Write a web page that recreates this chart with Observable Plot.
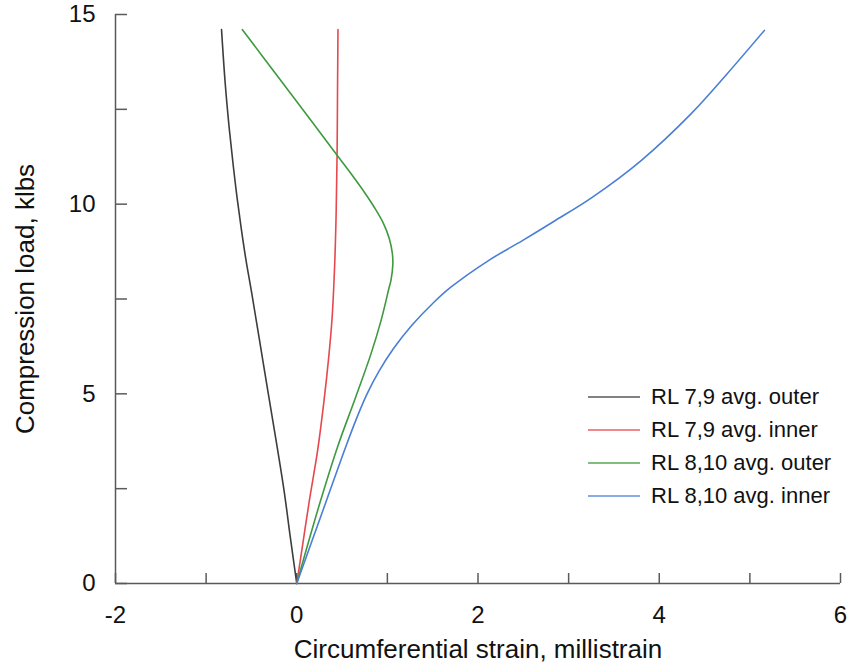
<!DOCTYPE html>
<html>
<head>
<meta charset="utf-8">
<script src="https://cdn.jsdelivr.net/npm/d3@7"></script>
<script src="https://cdn.jsdelivr.net/npm/@observablehq/plot@0.6"></script>
<style>
  html, body { margin: 0; padding: 0; background: #fff; }
  #wrap { position: relative; width: 849px; height: 672px; font-family: "Liberation Sans", Arial, sans-serif; }
  #legend { position: absolute; left: 588px; top: 380px; font-size: 22px; color: #111; }
  .row { display: flex; align-items: center; height: 33px; }
  .sw { width: 52px; height: 2px; margin-right: 11px; opacity: 0.65; }
</style>
</head>
<body>
<div id="wrap"></div>
<script>
const seriesNames = ["RL 7,9 avg. outer", "RL 7,9 avg. inner", "RL 8,10 avg. outer", "RL 8,10 avg. inner"];
const seriesColors = ["#3d3d3d", "#e5484f", "#3e9a3e", "#4a7fd6"];

const outer79X = [0, -0.07, -0.14, -0.23, -0.32, -0.41, -0.50, -0.565, -0.615, -0.66, -0.70, -0.745, -0.79, -0.83];
const outer79Y = [0, 1.2, 2.45, 3.8, 5.09, 6.4, 7.7, 8.6, 9.4, 10.2, 11.0, 12.0, 13.2, 14.6];

const inner79X = [0, 0.07, 0.14, 0.23, 0.30, 0.35, 0.39, 0.42, 0.435, 0.445, 0.45, 0.455];
const inner79Y = [0, 1.1, 2.2, 3.5, 4.8, 5.9, 7.0, 8.5, 9.8, 11.3, 13.0, 14.6];

const outer810X = [0, 0.13, 0.265, 0.45, 0.65, 0.82, 0.93, 1.02, 1.04, 1.06, 1.055, 1.02, 0.955, 0.86, 0.75, 0.60, 0.41, 0.16, -0.22, -0.6];
const outer810Y = [0, 1.1, 2.2, 3.6, 4.91, 6.06, 6.93, 7.81, 8.0, 8.4, 8.7, 9.1, 9.5, 9.9, 10.3, 10.8, 11.4, 12.2, 13.4, 14.6];

const inner810X = [0, 0.15, 0.33, 0.54, 0.668, 0.776, 0.908, 1.07, 1.268, 1.508, 1.70, 2.12, 2.49, 2.84, 3.26, 3.80, 4.35, 4.75, 5.16];
const inner810Y = [0, 1.0, 2.2, 3.6, 4.4, 5.0, 5.6, 6.2, 6.8, 7.4, 7.81, 8.52, 9.04, 9.55, 10.18, 11.15, 12.38, 13.44, 14.58];

const xTicks = [-2, -1, 0, 1, 2, 3, 4, 5, 6];
const xTickLabels = [-2, 0, 2, 4, 6];
const yTicks = [0, 2.5, 5, 7.5, 10, 12.5, 15];
const yTickLabels = [0, 5, 10, 15];
const xTitle = "Circumferential strain, millistrain";
const yTitle = "Compression load, klbs";

const seriesXs = [outer79X, inner79X, outer810X, inner810X];
const seriesYs = [outer79Y, inner79Y, outer810Y, inner810Y];
const rows = [];
seriesNames.forEach((name, i) => {
  seriesXs[i].forEach((x, j) => rows.push({series: name, x, y: seriesYs[i][j]}));
});

const axisColor = "#5a5a5a";

const chart = Plot.plot({
  width: 849,
  height: 672,
  marginLeft: 115,
  marginRight: 9,
  marginTop: 14,
  marginBottom: 89,
  style: {fontFamily: "'Liberation Sans', Arial, sans-serif", color: "#111", background: "#fff"},
  x: {domain: [-2, 6]},
  y: {domain: [0, 15]},
  color: {domain: seriesNames, range: seriesColors},
  marks: [
    Plot.ruleX([-2], {stroke: axisColor, strokeWidth: 1.5}),
    Plot.ruleY([0], {stroke: axisColor, strokeWidth: 1.5}),
    Plot.axisY(yTicks, {tickSize: -12, tickFormat: () => "", stroke: axisColor, strokeWidth: 1.5, label: null}),
    Plot.axisX(xTicks, {tickSize: -10, tickFormat: () => "", stroke: axisColor, strokeWidth: 1.5, label: null}),
    Plot.axisY(yTickLabels, {tickSize: 0, tickPadding: 20, fontSize: 24, tickFormat: d => String(d), label: null}),
    Plot.axisX(xTickLabels, {tickSize: 0, tickPadding: 22, fontSize: 24, tickFormat: d => String(d), label: null}),
    Plot.text([xTitle], {frameAnchor: "bottom", dy: 74, fontSize: 26, fill: "#111"}),
    Plot.text([yTitle], {frameAnchor: "left", textAnchor: "middle", rotate: -90, dx: -90, fontSize: 26, fill: "#111"}),
    Plot.line(rows, {x: "x", y: "y", z: "series", stroke: "series", strokeWidth: 1.6, curve: "catmull-rom"})
  ]
});

const wrap = document.getElementById("wrap");
wrap.appendChild(chart);

const legend = document.createElement("div");
legend.id = "legend";
seriesNames.forEach((name, i) => {
  const row = document.createElement("div");
  row.className = "row";
  const sw = document.createElement("span");
  sw.className = "sw";
  sw.style.background = seriesColors[i];
  const label = document.createElement("span");
  label.textContent = name;
  row.appendChild(sw);
  row.appendChild(label);
  legend.appendChild(row);
});
wrap.appendChild(legend);
</script>
</body>
</html>
